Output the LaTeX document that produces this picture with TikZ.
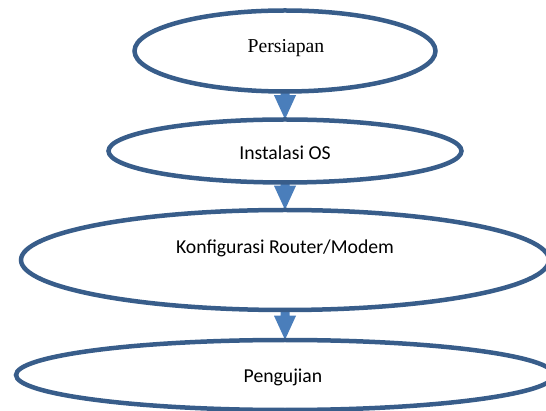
\documentclass[tikz,border=0pt]{standalone}
\usepackage{fontspec}
\setmainfont{Liberation Serif}
\newfontfamily\calibrifont{Carlito}
\usetikzlibrary{shapes.geometric,calc,backgrounds}
\definecolor{outlineblue}{RGB}{56,93,138}
\definecolor{arrowblue}{RGB}{74,126,187}
\newcommand\flowarrow[2]{%
  \fill[arrowblue] ($(#1.south)+(-4.5,-8)$) -- ($(#2.north)+(-4.5,-22)$) -- ($(#2.north)+(-11,-22)$)
    -- ($(#2.north)+(0,2)$) -- ($(#2.north)+(11,-22)$) -- ($(#2.north)+(4.5,-22)$)
    -- ($(#1.south)+(4.5,-8)$) -- cycle;}
\begin{document}
\begin{tikzpicture}[x=1pt,y=-1pt,
  ell/.style={ellipse, draw=outlineblue, line width=4.5pt, fill=white, inner sep=0pt},
  lbl/.style={anchor=base, inner sep=0pt, font=\calibrifont\fontsize{19.7}{24}\selectfont},
  serlbl/.style={anchor=base, inner sep=0pt, font=\fontsize{19.7}{24}\selectfont}]
\useasboundingbox (0,0) rectangle (546,411);
\clip (0,0) rectangle (546,411);
\node[ell, minimum width=301pt, minimum height=81pt] (e1) at (285,51) {};
\node[ell, minimum width=353pt, minimum height=63pt] (e2) at (285,151) {};
\node[ell, minimum width=528pt, minimum height=100pt] (e3) at (285,260) {};
\node[ell, minimum width=538pt, minimum height=70pt] (e4) at (285,375) {};
\node[serlbl] (t1) at (286,53) {Persiapan};
\node[lbl] (t2) at (285,160) {Instalasi OS};
\node[lbl] (t3) at (285,254) {Konfigurasi Router/Modem};
\node[lbl] (t4) at (283,383) {Pengujian};
\begin{pgfonlayer}{background}
\flowarrow{e1}{e2}
\flowarrow{e2}{e3}
\flowarrow{e3}{e4}
\end{pgfonlayer}
\end{tikzpicture}
\end{document}
